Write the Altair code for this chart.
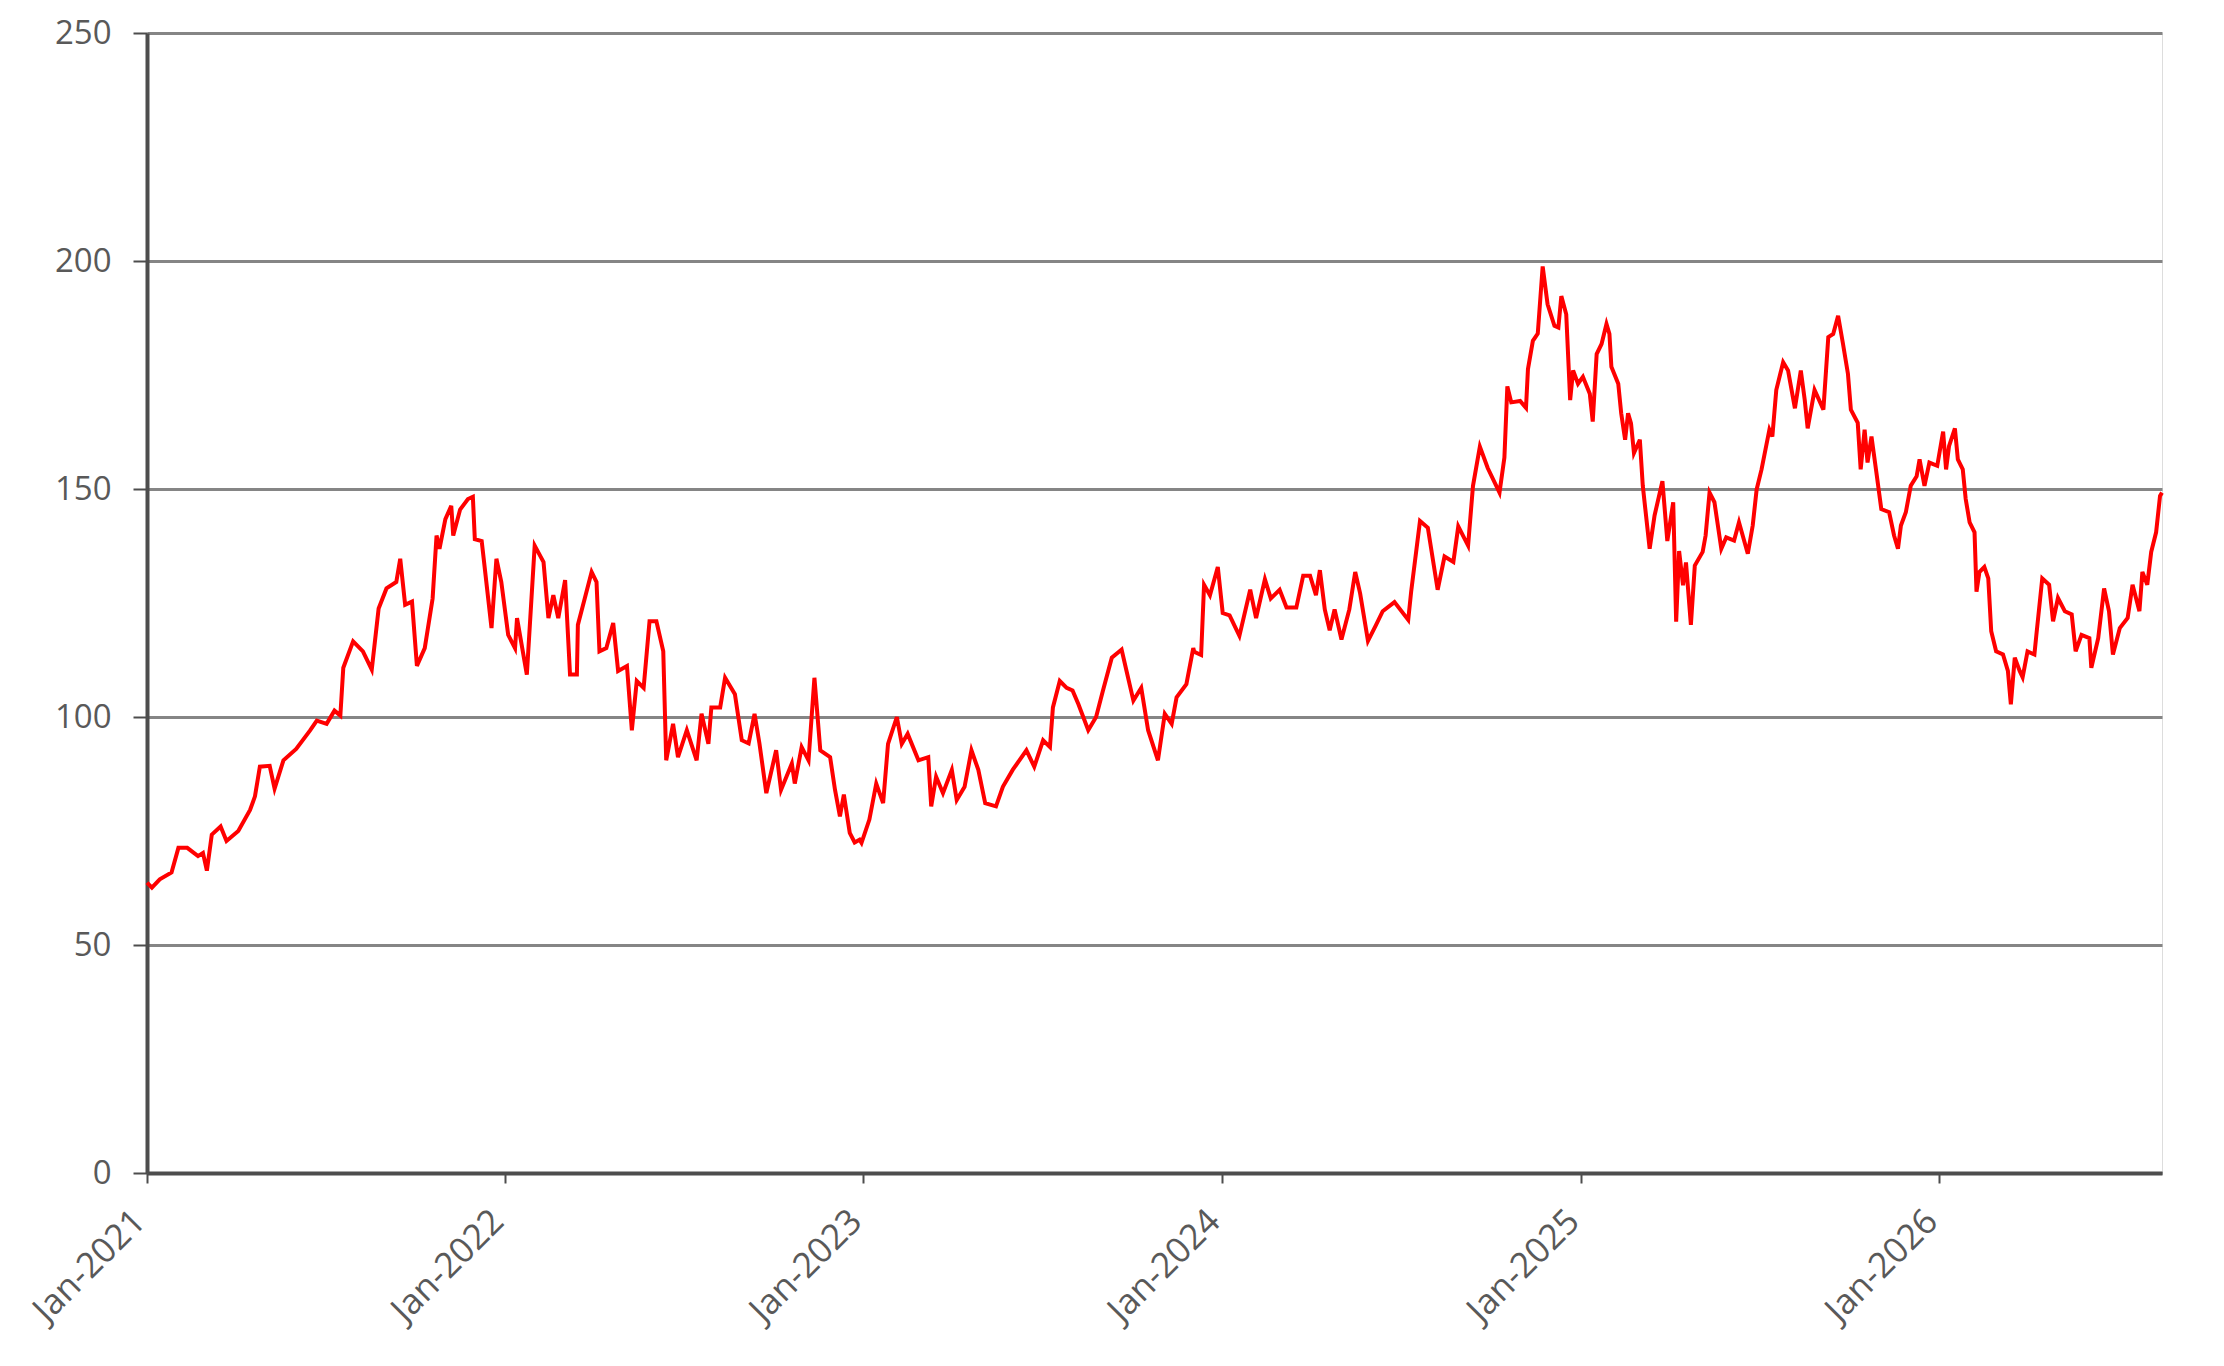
import altair as alt
import pandas as pd

# Time position of each reading, in years since 1 Jan 2021
years_since_2021 = [
    0.000, 0.013, 0.036, 0.069, 0.087, 0.111, 0.143, 0.157, 0.166, 0.180, 0.204, 0.222, 0.255,
    0.287, 0.301, 0.315, 0.343, 0.357, 0.380, 0.417, 0.455, 0.473, 0.501, 0.524, 0.538, 0.547,
    0.575, 0.603, 0.627, 0.645, 0.668, 0.696, 0.706, 0.719, 0.738, 0.752, 0.775, 0.798, 0.808,
    0.817, 0.831, 0.850, 0.854, 0.873, 0.896, 0.910, 0.915, 0.933, 0.938, 0.961, 0.975, 0.989,
    1.008, 1.026, 1.031, 1.059, 1.082, 1.105, 1.119, 1.133, 1.147, 1.166, 1.180, 1.198, 1.203,
    1.221, 1.240, 1.254, 1.263, 1.282, 1.300, 1.314, 1.338, 1.352, 1.366, 1.384, 1.403, 1.421,
    1.440, 1.449, 1.468, 1.482, 1.505, 1.533, 1.547, 1.565, 1.575, 1.598, 1.612, 1.640, 1.658,
    1.677, 1.695, 1.709, 1.728, 1.756, 1.770, 1.798, 1.807, 1.826, 1.844, 1.863, 1.877, 1.905,
    1.919, 1.933, 1.945, 1.960, 1.975, 1.988, 1.993, 2.016, 2.035, 2.053, 2.067, 2.091, 2.105,
    2.123, 2.151, 2.179, 2.188, 2.202, 2.221, 2.244, 2.258, 2.281, 2.300, 2.318, 2.337, 2.369,
    2.388, 2.416, 2.453, 2.476, 2.499, 2.518, 2.527, 2.546, 2.565, 2.583, 2.597, 2.625, 2.648,
    2.667, 2.690, 2.718, 2.732, 2.751, 2.774, 2.792, 2.820, 2.839, 2.857, 2.871, 2.899, 2.918,
    2.922, 2.941, 2.950, 2.964, 2.988, 3.001, 3.020, 3.048, 3.076, 3.094, 3.118, 3.136, 3.159,
    3.178, 3.206, 3.224, 3.243, 3.262, 3.271, 3.285, 3.299, 3.313, 3.332, 3.355, 3.369, 3.383,
    3.406, 3.429, 3.448, 3.480, 3.517, 3.527, 3.550, 3.573, 3.601, 3.620, 3.643, 3.657, 3.685,
    3.699, 3.717, 3.740, 3.773, 3.787, 3.796, 3.806, 3.829, 3.847, 3.852, 3.866, 3.880, 3.894,
    3.908, 3.927, 3.936, 3.946, 3.960, 3.969, 3.978, 3.992, 4.005, 4.024, 4.033, 4.043, 4.057,
    4.071, 4.080, 4.086, 4.103, 4.112, 4.122, 4.131, 4.140, 4.149, 4.163, 4.173, 4.191, 4.205,
    4.228, 4.242, 4.256, 4.266, 4.275, 4.284, 4.294, 4.308, 4.317, 4.340, 4.349, 4.359, 4.373,
    4.391, 4.405, 4.428, 4.442, 4.465, 4.479, 4.489, 4.503, 4.526, 4.535, 4.545, 4.563, 4.577,
    4.596, 4.614, 4.624, 4.633, 4.651, 4.675, 4.689, 4.703, 4.716, 4.730, 4.744, 4.754, 4.772,
    4.781, 4.791, 4.800, 4.810, 4.823, 4.837, 4.860, 4.874, 4.884, 4.893, 4.907, 4.921, 4.935,
    4.944, 4.958, 4.972, 4.995, 5.009, 5.019, 5.028, 5.042, 5.051, 5.065, 5.074, 5.084, 5.098,
    5.102, 5.112, 5.125, 5.135, 5.144, 5.158, 5.177, 5.191, 5.200, 5.209, 5.223, 5.232, 5.246,
    5.265, 5.270, 5.288, 5.307, 5.316, 5.330, 5.349, 5.368, 5.381, 5.395, 5.418, 5.423, 5.442,
    5.460, 5.474, 5.483, 5.502, 5.525, 5.539, 5.558, 5.567, 5.581, 5.591, 5.605, 5.614, 5.621,
]

# Index level at each reading
values = [
    63.7, 62.6, 64.4, 65.9, 71.3, 71.3, 69.5, 70.2, 66.3, 74.2, 76.0, 72.8, 75.0,
    79.6, 82.6, 89.1, 89.3, 84.3, 90.5, 93.0, 97.0, 99.2, 98.5, 101.4, 100.3, 110.8,
    116.6, 114.4, 110.4, 123.8, 128.2, 129.6, 134.7, 124.6, 125.3, 111.2, 115.1, 126.0, 139.8,
    136.9, 143.4, 146.3, 139.8, 145.5, 147.8, 148.3, 139.0, 138.6, 134.8, 119.5, 134.7, 129.6,
    118.0, 115.1, 121.7, 109.3, 137.6, 134.0, 121.7, 126.7, 121.7, 130.0, 109.3, 109.3, 120.2,
    126.0, 131.8, 129.6, 114.4, 115.1, 120.6, 110.1, 111.2, 97.1, 107.9, 106.4, 121.0, 121.0,
    114.4, 90.5, 98.5, 91.2, 97.1, 90.5, 100.7, 94.1, 102.1, 102.1, 108.6, 105.0, 94.9,
    94.2, 100.7, 94.2, 83.3, 92.7, 84.0, 89.8, 85.4, 93.4, 90.5, 108.6, 92.7, 91.2,
    84.0, 78.2, 83.0, 74.6, 72.5, 73.1, 72.4, 77.5, 85.4, 81.1, 94.1, 100.0, 94.1,
    96.3, 90.5, 91.2, 80.4, 86.9, 83.3, 88.4, 81.8, 84.7, 92.7, 88.4, 81.1, 80.4,
    84.7, 88.4, 92.7, 89.1, 94.9, 93.4, 102.1, 107.9, 106.4, 105.8, 102.8, 97.1, 100.0,
    105.8, 113.0, 114.8, 110.1, 103.6, 106.4, 97.1, 90.5, 100.7, 98.5, 104.3, 107.2, 115.1,
    114.3, 113.6, 129.0, 126.7, 132.9, 122.8, 122.3, 117.8, 127.9, 121.7, 130.2, 126.0, 127.9,
    124.0, 124.0, 131.0, 131.0, 126.7, 132.2, 123.6, 119.0, 123.6, 117.0, 123.6, 131.8, 127.1,
    116.7, 120.1, 123.2, 125.2, 121.3, 127.5, 143.0, 141.5, 127.9, 135.2, 134.0, 141.8, 137.6,
    150.7, 159.3, 154.6, 149.2, 156.9, 172.5, 169.0, 169.3, 167.8, 176.3, 182.5, 184.1, 198.8,
    190.5, 185.8, 185.4, 192.3, 188.3, 169.5, 176.0, 173.1, 174.6, 170.9, 164.8, 179.6, 181.8,
    186.2, 184.0, 176.8, 173.1, 166.6, 160.8, 166.6, 164.4, 157.9, 160.8, 150.7, 136.9, 144.2,
    151.7, 138.6, 147.1, 120.9, 136.4, 128.9, 133.9, 120.2, 133.2, 136.2, 139.8, 149.2, 147.1,
    136.9, 139.4, 138.7, 142.7, 135.8, 142.0, 149.9, 154.3, 163.0, 161.5, 171.7, 177.8, 176.0,
    167.7, 176.0, 169.5, 163.3, 171.7, 167.4, 183.3, 184.0, 188.0, 181.8, 175.3, 167.4, 164.5,
    154.3, 163.0, 155.8, 161.5, 153.6, 145.6, 144.9, 139.8, 136.9, 142.0, 144.9, 150.7, 152.8,
    156.5, 150.7, 155.8, 155.1, 162.6, 154.3, 159.4, 163.3, 156.5, 154.3, 147.8, 142.7, 140.5,
    127.5, 131.8, 132.9, 130.4, 118.8, 114.4, 113.7, 110.1, 102.8, 113.0, 110.1, 108.7, 114.4,
    113.7, 118.0, 130.4, 129.0, 121.0, 126.1, 123.2, 122.5, 114.4, 118.0, 117.3, 110.8, 117.3,
    128.2, 123.2, 113.7, 119.5, 121.7, 129.0, 123.2, 131.8, 129.0, 136.2, 140.5, 148.5, 149.2,
]

tick_years = [2021, 2022, 2023, 2024, 2025, 2026]
y_ticks = [0, 50, 100, 150, 200, 250]

start = pd.Timestamp("2021-01-01")
dates = [start + pd.Timedelta(days=round(t * 365.25)) for t in years_since_2021]
df = pd.DataFrame({
    "date": [d.strftime("%Y-%m-%dT00:00:00") for d in dates],
    "value": values,
})
end = dates[-1]

FONT = "Open Sans"
LABEL_COLOR = "#595959"

chart = (
    alt.Chart(df)
    .mark_line(color="#ff0000", strokeWidth=4, interpolate="linear")
    .encode(
        x=alt.X(
            "date:T",
            scale=alt.Scale(
                domain=[
                    alt.DateTime(year=2021, month=1, date=1),
                    alt.DateTime(year=end.year, month=end.month, date=end.day),
                ]
            ),
            axis=alt.Axis(
                title=None,
                values=[alt.DateTime(year=y, month=1, date=1) for y in tick_years],
                format="%b-%Y",
                labelAngle=-45,
                labelAlign="right",
                labelBaseline="alphabetic",
                labelPadding=40,
                labelFont=FONT,
                labelFontSize=35,
                labelColor=LABEL_COLOR,
                grid=False,
                domainColor="#4d4d4d",
                domainWidth=4,
                tickColor="#4d4d4d",
                tickWidth=2,
                tickSize=10,
                labelOverlap=False,
            ),
        ),
        y=alt.Y(
            "value:Q",
            scale=alt.Scale(domain=[0, 250], nice=False),
            axis=alt.Axis(
                title=None,
                values=y_ticks,
                labelFont=FONT,
                labelFontSize=33,
                labelColor=LABEL_COLOR,
                labelPadding=22,
                grid=True,
                gridColor="#858585",
                gridWidth=3,
                domainColor="#4d4d4d",
                domainWidth=4,
                tickColor="#4d4d4d",
                tickWidth=2,
                tickSize=14,
            ),
        ),
    )
    .properties(
        width=2015,
        height=1140,
        autosize=alt.AutoSizeParams(type="none"),
        padding={"left": 139, "top": 25, "right": 50, "bottom": 180},
    )
    .configure_view(stroke="#858585", strokeWidth=3)
    .configure(background="white")
)

chart.save("out.html", embed_options={"renderer": "svg", "actions": False})
